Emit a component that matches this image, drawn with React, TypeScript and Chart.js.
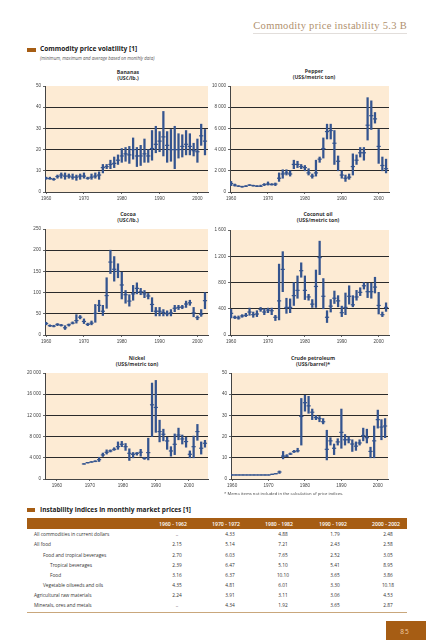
import React, { useEffect, useRef } from "react";
import { Chart, registerables } from "chart.js";
Chart.register(...registerables);

// ---------- DATA ----------
const YEARS = [1960, 1961, 1962, 1963, 1964, 1965, 1966, 1967, 1968, 1969, 1970, 1971, 1972, 1973, 1974, 1975, 1976, 1977, 1978, 1979, 1980, 1981, 1982, 1983, 1984, 1985, 1986, 1987, 1988, 1989, 1990, 1991, 1992, 1993, 1994, 1995, 1996, 1997, 1998, 1999, 2000, 2001, 2002];
const NICKEL_YEARS = [1970, 1971, 1972, 1973, 1974, 1975, 1976, 1977, 1978, 1979, 1980, 1981, 1982, 1983, 1984, 1985, 1986, 1987, 1988, 1989, 1990, 1991, 1992, 1993, 1994, 1995, 1996, 1997, 1998, 1999, 2000, 2001, 2002];
const X_TICKS = [1960, 1970, 1980, 1990, 2000];

const BANANA_MIN = [6, 6, 5.5, 6.5, 6.5, 6, 6.5, 6, 5.5, 6, 6.5, 6, 6, 6.5, 6, 9, 11, 11, 11.5, 13, 14, 14.5, 13.5, 15.5, 12, 12.5, 14, 14, 15, 18.5, 19, 17, 14, 14.5, 11, 16, 16.5, 17.5, 17.5, 17, 14, 22, 17.5];
const BANANA_MAX = [7, 7, 6.5, 8, 9, 9, 8.5, 8.5, 8, 8.5, 9, 7, 8.5, 9, 9.5, 13, 13, 15, 16.5, 17.5, 20.5, 21, 21.5, 25.5, 21, 22, 25, 20, 29, 31, 28.5, 38, 28.5, 29.5, 31, 27.5, 27, 29, 27.5, 23, 25, 32, 29.5];
const BANANA_AVG = [6.5, 6.3, 6, 7.3, 8, 7.5, 7.5, 7, 7, 7.5, 7.5, 6.5, 7, 7.5, 8, 11.5, 12, 13, 13.5, 15, 17, 18, 17.5, 20, 17, 17, 18, 17, 20.5, 22.5, 24, 26, 22, 20, 20, 20, 21.5, 22.5, 21.5, 19.5, 19, 26.5, 24];

const PEPPER_MIN = [600, 550, 500, 450, 500, 600, 550, 500, 500, 600, 650, 650, 600, 1000, 1300, 1600, 1500, 2200, 2300, 2200, 2000, 1600, 1300, 1500, 2800, 3200, 5000, 5000, 2600, 2000, 1300, 1000, 1200, 1600, 2600, 3300, 3000, 4900, 5900, 6500, 2700, 2000, 1800];
const PEPPER_MAX = [1000, 750, 600, 550, 600, 700, 650, 600, 650, 800, 950, 800, 850, 1800, 2100, 2100, 2000, 3000, 2900, 2600, 2500, 2200, 1700, 3000, 3300, 5100, 6400, 6400, 5800, 3400, 2000, 1600, 1700, 3600, 3500, 4200, 4200, 8900, 8600, 7500, 5900, 3300, 3100];
const PEPPER_AVG = [800, 650, 550, 500, 550, 650, 600, 550, 550, 700, 750, 700, 750, 1300, 1700, 1800, 1700, 2600, 2600, 2400, 2300, 1800, 1500, 1800, 3100, 4100, 5700, 5800, 4600, 2900, 1600, 1300, 1400, 2400, 3000, 3700, 3700, 6300, 7200, 6900, 4300, 2500, 2200];

const COCOA_MIN = [24, 20, 19, 22, 21, 13, 21, 26, 28, 38, 27, 22, 24, 30, 55, 46, 63, 145, 127, 135, 85, 75, 68, 82, 97, 95, 88, 85, 55, 45, 45, 45, 45, 45, 55, 60, 62, 65, 70, 43, 36, 44, 62];
const COCOA_MAX = [30, 24, 23, 27, 25, 22, 26, 31, 48, 46, 38, 28, 33, 72, 82, 70, 135, 200, 185, 168, 148, 105, 95, 117, 123, 110, 105, 98, 88, 65, 65, 60, 57, 60, 70, 70, 70, 80, 82, 65, 45, 60, 100];
const COCOA_AVG = [27, 22, 21, 25, 23, 17, 24, 28, 34, 42, 32, 25, 28, 51, 70, 56, 93, 172, 155, 150, 118, 95, 80, 97, 110, 102, 97, 92, 72, 56, 56, 53, 50, 52, 63, 65, 66, 73, 76, 52, 41, 49, 81];

const COCONUT_MIN = [260, 250, 240, 270, 280, 300, 270, 280, 360, 310, 340, 310, 220, 230, 660, 330, 340, 450, 560, 880, 540, 530, 420, 420, 920, 400, 190, 350, 480, 430, 280, 310, 470, 430, 530, 600, 700, 570, 560, 640, 320, 280, 360];
const COCONUT_MAX = [390, 290, 290, 310, 330, 410, 350, 370, 420, 400, 410, 410, 300, 1080, 1270, 560, 550, 800, 900, 1100, 900, 620, 540, 990, 1430, 860, 370, 540, 670, 600, 440, 640, 750, 600, 680, 720, 800, 790, 790, 880, 650, 350, 490];
const COCONUT_AVG = [330, 270, 260, 290, 300, 350, 310, 320, 390, 350, 380, 370, 270, 520, 1000, 420, 420, 600, 680, 980, 680, 580, 470, 740, 1180, 590, 270, 440, 560, 520, 340, 420, 590, 460, 580, 650, 750, 660, 660, 730, 450, 310, 420];

const NICKEL_MIN = [2800, 3000, 3150, 3250, 3300, 4250, 4700, 5100, 5400, 5600, 6100, 5400, 3500, 4000, 4500, 4300, 3700, 3600, 8000, 8800, 7000, 7200, 5600, 4300, 4600, 7400, 6600, 6000, 4000, 4000, 7300, 4700, 6000];
const NICKEL_MAX = [2900, 3150, 3300, 3450, 4100, 4900, 5500, 5500, 5900, 7000, 7100, 6700, 5700, 5000, 5000, 5600, 4100, 7700, 18100, 18600, 11100, 9400, 7900, 6100, 8500, 9600, 8300, 7900, 5300, 8100, 10300, 7000, 7300];
const NICKEL_AVG = [2840, 3090, 3210, 3340, 3650, 4540, 5040, 5300, 5600, 6100, 6550, 6100, 4850, 4650, 4850, 5040, 3900, 4980, 14000, 13500, 8950, 8440, 7180, 5290, 6550, 8300, 7560, 7060, 4660, 6100, 8950, 5800, 6740];

const CRUDE_MIN = [1.8, 1.8, 1.8, 1.8, 1.8, 1.8, 1.8, 1.8, 1.8, 1.8, 1.8, 2.1, 2.4, 2.6, 9.5, 10.5, 11.5, 12.5, 12.7, 16, 32, 31, 28, 28, 27, 26, 9, 16, 11.5, 16, 14.5, 16, 17, 13, 13.5, 16, 18, 17, 10, 10, 24, 18.5, 19.5];
const CRUDE_MAX = [2.0, 2.0, 2.0, 2.0, 2.0, 2.0, 2.0, 2.0, 2.0, 2.0, 2.0, 2.3, 2.6, 3.8, 13, 11.5, 12.3, 13.5, 14.5, 38, 39.5, 39, 33, 30, 29.5, 28.5, 23, 19.5, 16.5, 19, 33, 21, 20, 18.5, 17.5, 18.5, 24, 23.5, 15, 25, 32.5, 28, 28.5];
const CRUDE_AVG = [1.9, 1.9, 1.9, 1.9, 1.9, 1.9, 1.9, 1.9, 1.9, 1.9, 1.9, 2.2, 2.5, 3.3, 10.8, 10.8, 11.8, 12.9, 13.3, 29.5, 36, 34.5, 31.5, 29, 28.5, 27, 14, 18, 14.5, 17.5, 22, 18.5, 18.5, 16.5, 15.5, 17, 20.5, 19.5, 13, 18, 28, 24.5, 25];

const TABLE_PERIODS = ["1960 - 1962", "1970 - 1972", "1980 - 1982", "1990 - 1992", "2000 - 2002"];
const TABLE_LABELS = ["All commodities in current dollars", "All food", "Food and tropical beverages", "Tropical beverages", "Food", "Vegetable oilseeds and oils", "Agricultural raw materials", "Minerals, ores and metals"];
const TABLE_LEVELS = [0, 0, 1, 2, 2, 1, 0, 0];
const TABLE_VALUES = [
  ["..", "4.33", "4.88", "1.79", "2.48"],
  ["2.15", "5.14", "7.21", "2.43", "2.58"],
  ["2.70", "6.03", "7.65", "2.52", "3.05"],
  ["2.39", "6.47", "5.10", "5.41", "8.95"],
  ["3.16", "6.37", "10.10", "3.65", "3.86"],
  ["4.35", "4.81", "6.01", "3.30", "10.18"],
  ["2.24", "3.91", "3.11", "3.06", "4.53"],
  ["..", "4.34", "1.92", "3.65", "2.87"],
];

// ---------- STYLE ----------
const BROWN = "#a65d14";
const BAR = "#34548f";
const PLOT_BG = "#fdebd4";
const SANS = "'Open Sans', 'Liberation Sans', Arial, sans-serif";
const TICK_FONT = { family: "'Liberation Sans', Arial, sans-serif", size: 4.6 };

const fmtThousands = (v: number) => String(v).replace(/\B(?=(\d{3})+(?!\d))/g, " ");

type PanelProps = {
  years: number[]; mins: number[]; maxs: number[]; avgs: number[];
  yMax: number; yStep: number;
  left: number; top: number; w: number; h: number;
  labelAxis?: { min: number; max: number };
};

function Panel(p: PanelProps) {
  const ref = useRef<HTMLCanvasElement>(null);
  const YW = 30, PT = 6, PR = 6, XH = 12;
  const cw = YW + p.w + PR;
  const ch = PT + p.h + XH;
  useEffect(() => {
    const bg = {
      id: "plotbg",
      beforeDraw(c: any) {
        const a = c.chartArea;
        c.ctx.save();
        c.ctx.fillStyle = PLOT_BG;
        c.ctx.fillRect(a.left, a.top, a.right - a.left, a.bottom - a.top);
        c.ctx.restore();
      },
    };
    const xCommon = (min: number, max: number, display: boolean) => ({
      type: "linear",
      min, max,
      display,
      offset: false,
      position: "bottom",
      grid: { display: true, drawOnChartArea: false, offset: false, tickLength: 2, color: "#666" },
      border: { display: true, color: "#444", width: 1 },
      ticks: { font: TICK_FONT, color: "#444", padding: 2, maxRotation: 0, autoSkip: false, callback: (v: any) => String(v) },
      afterBuildTicks: (s: any) => { s.ticks = X_TICKS.map((v) => ({ value: v })); },
      afterFit: (s: any) => { s.height = display ? XH : 0; },
    });
    const scales: any = {
      x: xCommon(1959.7, 2002.8, !p.labelAxis),
      y: {
        type: "linear", min: 0, max: p.yMax,
        ticks: { stepSize: p.yStep, font: TICK_FONT, color: "#444", padding: 2, callback: (v: any) => fmtThousands(v) },
        grid: {
          color: (c: any) => (c.tick && c.tick.value > 0 && c.tick.value < p.yMax ? "#2a2a2a" : "rgba(0,0,0,0)"),
          tickColor: "#666", tickLength: 2, lineWidth: 1,
        },
        border: { display: true, color: "#444", width: 1 },
        afterFit: (s: any) => { s.width = YW; },
      },
    };
    if (p.labelAxis) scales.x2 = xCommon(p.labelAxis.min, p.labelAxis.max, true);
    const chart = new Chart(ref.current as HTMLCanvasElement, {
      type: "bar",
      data: {
        datasets: [
          {
            type: "bar",
            data: p.years.map((y, i) => ({ x: y, y: [p.mins[i], p.maxs[i]] })) as any,
            backgroundColor: BAR, borderWidth: 0, barThickness: 1.6, order: 2,
          },
          {
            type: "scatter",
            data: p.years.map((y, i) => ({ x: y, y: p.avgs[i] })),
            pointStyle: "line", radius: 2.1, borderWidth: 1.2,
            borderColor: BAR, backgroundColor: BAR, order: 1,
          } as any,
        ],
      },
      options: {
        responsive: false, animation: false, events: [],
        layout: { padding: { top: PT, right: PR, left: 0, bottom: 0 } },
        plugins: { legend: { display: false }, tooltip: { enabled: false }, title: { display: false } },
        scales,
      } as any,
      plugins: [bg],
    });
    return () => chart.destroy();
  }, []);
  return (
    <canvas ref={ref} width={cw} height={ch}
      style={{ position: "absolute", left: p.left - YW, top: p.top - PT, width: cw, height: ch }} />
  );
}

type TxtProps = { x: number; y: number; size: number; children: any; align?: string; weight?: number; color?: string; italic?: boolean; family?: string; ls?: number };
function Txt({ x, y, size, children, align = "left", weight = 400, color = "#333", italic = false, family = SANS, ls = 0 }: TxtProps) {
  const lh = Math.ceil(size * 1.4);
  const style: any = {
    position: "absolute", top: y - lh / 2, height: lh, lineHeight: lh + "px", fontSize: size, fontWeight: weight,
    color, fontStyle: italic ? "italic" : "normal", fontFamily: family, whiteSpace: "nowrap", letterSpacing: ls,
  };
  if (align === "left") style.left = x;
  else if (align === "right") style.right = 426 - x;
  else { style.left = x - 100; style.width = 200; style.textAlign = "center"; }
  return <div style={style}>{children}</div>;
}

function PTitle({ x, y, a, b }: { x: number; y: number; a: string; b: string }) {
  return (
    <>
      <Txt x={x} y={y} size={5.2} align="center" weight={700} color="#333">{a}</Txt>
      <Txt x={x} y={y + 6.5} size={5.2} align="center" weight={700} color="#333">{b}</Txt>
    </>
  );
}

const VAL_X = [177, 230, 283, 335, 388];
const HEAD_X = [173, 226, 279, 333, 386];
const ROW_Y = [534, 544.5, 555, 565, 575, 585, 595, 605];
const LEVEL_X = [34, 43, 50];

export default function App() {
  return (
    <div style={{ position: "absolute", left: 0, top: 0, width: 426, height: 640, background: "#fff", overflow: "hidden", fontFamily: SANS }}>
      <Txt x={407} y={25} size={10.5} align="right" color="#b0906e" family="'Liberation Serif', serif" ls={0.3}>Commodity price instability  5.3 B</Txt>
      <div style={{ position: "absolute", left: 253, top: 32.5, width: 154, height: 1.5, background: "#e2dedb" }} />

      <div style={{ position: "absolute", left: 27, top: 47.5, width: 9, height: 4, background: BROWN }} />
      <Txt x={40} y={49.3} size={6.6} weight={700} color="#222">Commodity price volatility [1]</Txt>
      <Txt x={40} y={58.3} size={4.4} italic color="#555">(minimum, maximum and average based on monthly data)</Txt>

      <PTitle x={128} y={71.5} a="Bananas" b="(US¢/lb.)" />
      <PTitle x={314} y={70.5} a="Pepper" b="(US$/metric ton)" />
      <PTitle x={128} y={213.5} a="Cocoa" b="(US¢/lb.)" />
      <PTitle x={318} y={213.5} a="Coconut oil" b="(US$/metric ton)" />
      <PTitle x={137} y={357.5} a="Nickel" b="(US$/metric ton)" />
      <PTitle x={313} y={357.5} a="Crude petroleum" b="(US$/barrel)*" />

      <Panel years={YEARS} mins={BANANA_MIN} maxs={BANANA_MAX} avgs={BANANA_AVG} yMax={50} yStep={10} left={45} top={86} w={163} h={106} />
      <Panel years={YEARS} mins={PEPPER_MIN} maxs={PEPPER_MAX} avgs={PEPPER_AVG} yMax={10000} yStep={2000} left={230} top={86} w={159} h={106} />
      <Panel years={YEARS} mins={COCOA_MIN} maxs={COCOA_MAX} avgs={COCOA_AVG} yMax={250} yStep={50} left={45} top={229} w={163} h={106} />
      <Panel years={YEARS} mins={COCONUT_MIN} maxs={COCONUT_MAX} avgs={COCONUT_AVG} yMax={1600} yStep={400} left={230} top={230} w={159} h={105} />
      <Panel years={NICKEL_YEARS} mins={NICKEL_MIN} maxs={NICKEL_MAX} avgs={NICKEL_AVG} yMax={20000} yStep={4000} left={45} top={373} w={163} h={106} labelAxis={{ min: 1956.4, max: 2005.8 }} />
      <Panel years={YEARS} mins={CRUDE_MIN} maxs={CRUDE_MAX} avgs={CRUDE_AVG} yMax={50} yStep={10} left={231} top={373} w={157} h={106} />

      <Txt x={224} y={494} size={4.2} color="#444">* Memo items not included in the calculation of price indices.</Txt>

      <div style={{ position: "absolute", left: 27, top: 508, width: 8, height: 4, background: BROWN }} />
      <Txt x={40} y={510} size={6.5} weight={700} color="#222">Instability indices in monthly market prices [1]</Txt>
      <div style={{ position: "absolute", left: 27, top: 518, width: 380, height: 11, background: BROWN }} />
      {TABLE_PERIODS.map((t, i) => (
        <Txt key={t} x={HEAD_X[i]} y={523.5} size={5.2} align="center" weight={600} color="#fff">{t}</Txt>
      ))}
      {TABLE_LABELS.map((lab, r) => (
        <React.Fragment key={lab}>
          <Txt x={LEVEL_X[TABLE_LEVELS[r]]} y={ROW_Y[r]} size={4.8} color="#333">{lab}</Txt>
          {TABLE_VALUES[r].map((v, c) => (
            <Txt key={c} x={VAL_X[c]} y={ROW_Y[r]} size={4.8} align="center" color="#333">{v}</Txt>
          ))}
        </React.Fragment>
      ))}
      <div style={{ position: "absolute", left: 27, top: 611.5, width: 380, height: 1, background: "#c9a77c" }} />

      <div style={{ position: "absolute", left: 386, top: 621, width: 40, height: 19, background: BROWN }} />
      <Txt x={405} y={631.5} size={6.5} align="center" color="#f3cfa6" ls={1}>85</Txt>
    </div>
  );
}
